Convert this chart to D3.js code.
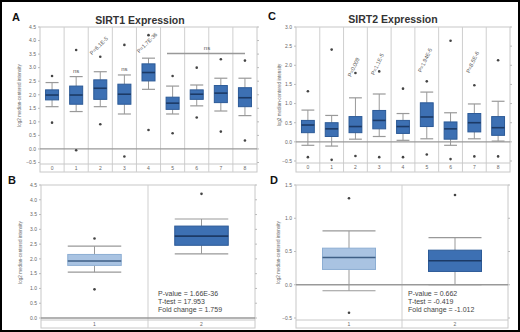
<!DOCTYPE html>
<html>
<head>
<meta charset="utf-8">
<script src="https://cdn.jsdelivr.net/npm/d3@7"></script>
<style>
  body { margin: 0; background: #fff; }
  svg { display: block; font-family: "Liberation Sans", Arial, sans-serif; }
</style>
</head>
<body>
<svg id="chart" width="520" height="332"></svg>
<script>
// ---- data ----
var groups9 = ["0", "1", "2", "3", "4", "5", "6", "7", "8"];
var groups2 = ["1", "2"];

// [lower whisker, q1, median, q3, upper whisker]
var sirt1Boxes = [
  [1.56, 1.81, 1.99, 2.18, 2.45],
  [1.38, 1.65, 1.99, 2.32, 2.67],
  [1.56, 1.83, 2.24, 2.55, 2.85],
  [1.29, 1.65, 2.02, 2.39, 2.73],
  [2.20, 2.51, 2.82, 3.14, 3.35],
  [1.29, 1.46, 1.69, 1.91, 2.32],
  [1.59, 1.83, 2.02, 2.18, 2.36],
  [1.40, 1.71, 2.06, 2.34, 2.61],
  [1.23, 1.56, 1.89, 2.26, 2.61]
];
var sirt1Outliers = [
  [2.69, 0.97], [3.65, -0.05], [3.40, 0.91], [3.84, -0.28], [4.20, 0.70],
  [2.69, 0.58], [3.00, 1.16], [3.31, 0.64], [3.26, 0.31]
];
var sirt1Notes = ["", "ns", "P=6.1E-5", "ns", "P=1.7E-36", "", "", "", ""];

var sirt2Boxes = [
  [-0.09, 0.24, 0.44, 0.56, 0.83],
  [-0.11, 0.14, 0.34, 0.50, 0.69],
  [0.07, 0.24, 0.40, 0.66, 1.15],
  [0.14, 0.34, 0.56, 0.82, 1.25],
  [0.04, 0.22, 0.40, 0.56, 0.74],
  [0.08, 0.40, 0.65, 1.02, 1.30],
  [-0.09, 0.07, 0.34, 0.52, 0.76],
  [0.08, 0.26, 0.50, 0.74, 0.99],
  [0.02, 0.17, 0.37, 0.66, 1.06]
];
var sirt2Outliers = [
  [1.32, -0.40], [2.41, -0.47], [1.80, -0.37], [1.84, -0.40], [1.39, -0.40],
  [1.58, -0.33], [2.64, -0.45], [1.48, -0.38], [2.13, -0.38]
];
var sirt2Notes = ["", "", "P=0.009", "P=1.1E-5", "", "P=1.94E-5", "", "P=8.5E-6", ""];

var sirt1PairBoxes = [
  [1.55, 1.78, 1.93, 2.15, 2.43],
  [2.17, 2.46, 2.77, 3.11, 3.35]
];
var sirt1PairOutliers = [[2.69, 0.97], [4.20]];
var sirt1Stats = ["P-value = 1.66E-36", "T-test = 17.953", "Fold change = 1.759"];

var sirt2PairBoxes = [
  [-0.09, 0.23, 0.41, 0.55, 0.81],
  [0.00, 0.20, 0.36, 0.52, 0.71]
];
var sirt2PairOutliers = [[1.30, -0.42], [1.35]];
var sirt2Stats = ["P-value = 0.662", "T-test = -0.419", "Fold change = -1.012"];

var yTitle = "log2 median-centered intensity";

// ---- drawing ----
var svg = d3.select("#chart");

function drawPanel(o) {
  var g = svg.append("g");
  var x = d3.scaleBand().domain(o.cats).range([o.x0, o.x1]);
  var y = d3.scaleLinear().domain(o.domain).range([o.yBot, o.yTop]);
  var ticks = d3.range(o.domain[0], o.domain[1] + 0.001, 0.5);

  // frame + category separators (run down through label row)
  g.append("rect")
    .attr("x", o.x0).attr("y", o.yTop)
    .attr("width", o.x1 - o.x0).attr("height", o.rowBot - o.yTop)
    .attr("fill", "none").attr("stroke", "#c8c8c8").attr("stroke-width", 1);
  o.cats.slice(1).forEach(function (c) {
    g.append("line")
      .attr("x1", x(c)).attr("x2", x(c))
      .attr("y1", o.yTop).attr("y2", o.rowBot)
      .attr("stroke", "#cfcfcf").attr("stroke-width", 1);
  });
  g.append("line")
    .attr("x1", o.x0).attr("x2", o.x1)
    .attr("y1", o.plotBot).attr("y2", o.plotBot)
    .attr("stroke", "#c8c8c8");

  // y ticks both sides
  ticks.forEach(function (t) {
    g.append("line").attr("x1", o.x0 - 2).attr("x2", o.x0)
      .attr("y1", y(t)).attr("y2", y(t)).attr("stroke", "#bbb");
    g.append("line").attr("x1", o.x1).attr("x2", o.x1 + 2)
      .attr("y1", y(t)).attr("y2", y(t)).attr("stroke", "#bbb");
    g.append("text")
      .attr("x", o.x0 - 4).attr("y", y(t) + 1.8)
      .attr("text-anchor", "end").attr("font-size", 5).attr("fill", "#666")
      .text(d3.format(".1f")(t));
  });

  // zero line
  g.append("line")
    .attr("x1", o.x0).attr("x2", o.x1)
    .attr("y1", y(0)).attr("y2", y(0))
    .attr("stroke", "#999").attr("stroke-width", 1.3);

  // category labels
  o.cats.forEach(function (c) {
    g.append("text")
      .attr("x", x(c) + x.bandwidth() / 2).attr("y", (o.plotBot + o.rowBot) / 2 + 1.8)
      .attr("text-anchor", "middle").attr("font-size", 5).attr("fill", "#666")
      .text(c);
  });

  // y title
  g.append("text")
    .attr("transform", "translate(" + o.titleX + "," + ((o.yTop + o.plotBot) / 2) + ") rotate(-90)")
    .attr("text-anchor", "middle").attr("font-size", 4.6).attr("fill", "#666")
    .text(yTitle);

  // boxes
  var bw = x.bandwidth() * o.boxFrac;
  o.boxes.forEach(function (b, i) {
    var cx = x(o.cats[i]) + x.bandwidth() / 2;
    var fill = o.fills[i % o.fills.length];
    var edge = o.edges[i % o.edges.length];
    // whisker stems
    g.append("line").attr("x1", cx).attr("x2", cx)
      .attr("y1", y(b[4])).attr("y2", y(b[3])).attr("stroke", "#999");
    g.append("line").attr("x1", cx).attr("x2", cx)
      .attr("y1", y(b[1])).attr("y2", y(b[0])).attr("stroke", "#999");
    [b[0], b[4]].forEach(function (v) {
      g.append("line").attr("x1", cx - bw / 2).attr("x2", cx + bw / 2)
        .attr("y1", y(v)).attr("y2", y(v)).attr("stroke", "#999").attr("stroke-width", 1.2);
    });
    g.append("rect")
      .attr("x", cx - bw / 2).attr("y", y(b[3]))
      .attr("width", bw).attr("height", y(b[1]) - y(b[3]))
      .attr("fill", fill).attr("stroke", edge).attr("stroke-width", 1);
    g.append("line").attr("x1", cx - bw / 2).attr("x2", cx + bw / 2)
      .attr("y1", y(b[2])).attr("y2", y(b[2]))
      .attr("stroke", o.medians[i % o.medians.length]).attr("stroke-width", 1.6);
    o.outliers[i].forEach(function (v) {
      g.append("circle").attr("cx", cx).attr("cy", y(v)).attr("r", 1.3).attr("fill", "#444");
    });
    if (o.notes && o.notes[i]) {
      var n = o.notes[i];
      if (n === "ns") {
        g.append("text").attr("x", cx).attr("y", y(b[4]) - 4)
          .attr("text-anchor", "middle").attr("font-size", 6).attr("fill", "#555").text(n);
      } else {
        g.append("text")
          .attr("transform", "translate(" + (cx + o.noteDx) + "," + o.noteY(i, y) + ") rotate(" + o.noteRot + ")")
          .attr("text-anchor", "middle").attr("font-size", 5.5).attr("fill", "#555").text(n);
      }
    }
  });
  return { x: x, y: y, g: g };
}

var blue = "#3d70b3", blueEdge = "#2c5a97", blueMed = "#1c3a66";
var light = "#a9c3e2", lightEdge = "#8daed3", lightMed = "#3f5f86";

// Panel A
var pa = drawPanel({
  cats: groups9, x0: 40, x1: 257, yTop: 27, yBot: 162.5, plotBot: 164, rowBot: 172,
  domain: [-0.5, 4.5], boxes: sirt1Boxes, outliers: sirt1Outliers, titleX: 21,
  boxFrac: 0.54, fills: [blue], edges: [blueEdge], medians: [blueMed],
  notes: sirt1Notes, noteRot: -45, noteDx: 0,
  noteY: function (i, y) { return i === 2 ? 47 : 44; }
});
pa.g.append("line").attr("x1", 167).attr("x2", 245).attr("y1", 53.5).attr("y2", 53.5)
  .attr("stroke", "#999").attr("stroke-width", 1.4);
pa.g.append("text").attr("x", 207).attr("y", 50).attr("text-anchor", "middle")
  .attr("font-size", 6).attr("fill", "#555").text("ns");

// Panel C
drawPanel({
  cats: groups9, x0: 296, x1: 510, yTop: 27, yBot: 161, plotBot: 163, rowBot: 172,
  domain: [-0.5, 3.0], boxes: sirt2Boxes, outliers: sirt2Outliers, titleX: 281,
  boxFrac: 0.54, fills: [blue], edges: [blueEdge], medians: [blueMed],
  notes: sirt2Notes, noteRot: -65, noteDx: 0,
  noteY: function (i, y) { return [0, 0, 68, 65, 0, 61, 0, 63, 0][i]; }
});

// Panel B
var pb = drawPanel({
  cats: groups2, x0: 41, x1: 255, yTop: 185, yBot: 318, plotBot: 320, rowBot: 328,
  domain: [0, 4.5], boxes: sirt1PairBoxes, outliers: sirt1PairOutliers, titleX: 22,
  boxFrac: 0.5, fills: [light, blue], edges: [lightEdge, blueEdge], medians: [lightMed, blueMed]
});
pb.g.selectAll(".stat").data(sirt1Stats).join("text")
  .attr("x", 158).attr("y", function (d, i) { return 295.5 + i * 8.3; })
  .attr("font-size", 7).attr("fill", "#444").text(function (d) { return d; });

// Panel D
var pd = drawPanel({
  cats: groups2, x0: 296, x1: 508, yTop: 185, yBot: 318, plotBot: 320, rowBot: 328,
  domain: [-0.5, 1.5], boxes: sirt2PairBoxes, outliers: sirt2PairOutliers, titleX: 280,
  boxFrac: 0.5, fills: [light, blue], edges: [lightEdge, blueEdge], medians: [lightMed, blueMed]
});
pd.g.selectAll(".stat").data(sirt2Stats).join("text")
  .attr("x", 408).attr("y", function (d, i) { return 295.5 + i * 8.3; })
  .attr("font-size", 7).attr("fill", "#444").text(function (d) { return d; });

// titles and panel letters
svg.append("text").attr("x", 140).attr("y", 24).attr("text-anchor", "middle")
  .attr("font-size", 10.5).attr("font-weight", "bold").attr("fill", "#333").text("SIRT1 Expression");
svg.append("text").attr("x", 393).attr("y", 23).attr("text-anchor", "middle")
  .attr("font-size", 10.5).attr("font-weight", "bold").attr("fill", "#333").text("SIRT2 Expression");
[["A", 12, 21], ["C", 268, 20], ["B", 8, 184], ["D", 270, 184]].forEach(function (p) {
  svg.append("text").attr("x", p[1]).attr("y", p[2])
    .attr("font-size", 11).attr("font-weight", "bold").attr("fill", "#111").text(p[0]);
});

// outer border
svg.append("rect").attr("x", 1).attr("y", 1).attr("width", 518).attr("height", 330)
  .attr("fill", "none").attr("stroke", "#000").attr("stroke-width", 2);
</script>
</body>
</html>
